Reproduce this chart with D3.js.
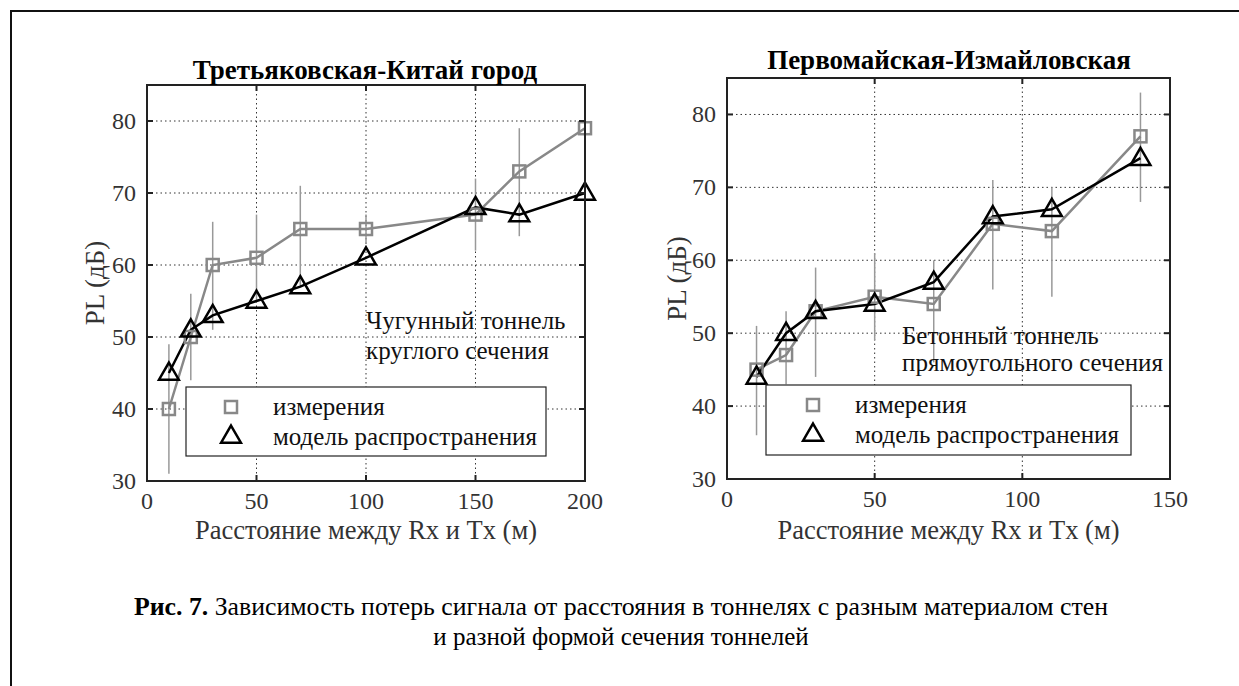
<!DOCTYPE html>
<html><head><meta charset="utf-8">
<script src="https://cdn.jsdelivr.net/npm/d3@7"></script>
<style>body{margin:0;background:#fff}svg{display:block}text{font-family:"Liberation Serif","Times New Roman","DejaVu Serif",serif}</style>
</head><body>
<svg id="c" width="1239" height="686"></svg>
<script>
// ---- data ----
const leftTitle = "Третьяковская-Китай город";
const rightTitle = "Первомайская-Измайловская";
const leftX = [10, 20, 30, 50, 70, 100, 150, 170, 200];
const leftMeas = [40, 50, 60, 61, 65, 65, 67, 73, 79];
const leftMeasLo = [31, 44, 51, 55, 57, 63, 62, 64, 74];
const leftMeasHi = [49, 56, 66, 67, 71, 67, 72, 79, 84];
const leftModel = [45, 51, 53, 55, 57, 61, 68, 67, 70];
const rightX = [10, 20, 30, 50, 70, 90, 110, 140];
const rightMeas = [45, 47, 53, 55, 54, 65, 64, 77];
const rightMeasLo = [36, 43, 44, 49, 46, 56, 55, 68];
const rightMeasHi = [51, 53, 59, 61, 60, 71, 70, 83];
const rightModel = [44, 50, 53, 54, 57, 66, 67, 74];
const leftXTicks = [0, 50, 100, 150, 200];
const rightXTicks = [0, 50, 100, 150];
const yTicks = [30, 40, 50, 60, 70, 80];
const legendLabels = ["измерения", "модель распространения"];
const xLabel = "Расстояние между Rx и Tx (м)";
const yLabel = "PL (дБ)";
const leftNote = ["Чугунный тоннель", "круглого сечения"];
const rightNote = ["Бетонный тоннель", "прямоугольного сечения"];

const svg = d3.select("#c");
// outer frame
svg.append("path").attr("d","M11,686 L11,11 L1239,11").attr("fill","none").attr("stroke","#111").attr("stroke-width",2);

const measColor = "#888", modelColor = "#000";

function panel(o){
  const g = svg.append("g");
  const x = d3.scaleLinear().domain(o.xDomain).range([o.x0, o.x1]);
  const y = d3.scaleLinear().domain([30,85]).range([o.y1, o.y0]);
  // grid
  g.selectAll(".gx").data(o.xTicks.slice(1,-1)).join("line")
    .attr("x1",d=>x(d)).attr("x2",d=>x(d)).attr("y1",o.y0).attr("y2",o.y1)
    .attr("stroke","#333").attr("stroke-width",1).attr("stroke-dasharray","1.5,3");
  g.selectAll(".gy").data(yTicks.slice(1)).join("line")
    .attr("y1",d=>y(d)).attr("y2",d=>y(d)).attr("x1",o.x0).attr("x2",o.x1)
    .attr("stroke","#333").attr("stroke-width",1).attr("stroke-dasharray","1.5,3");
  // error bars
  g.selectAll(".eb").data(o.xs.map((v,i)=>[v,o.lo[i],o.hi[i]])).join("line")
    .attr("x1",d=>x(d[0])).attr("x2",d=>x(d[0])).attr("y1",d=>y(d[1])).attr("y2",d=>y(d[2]))
    .attr("stroke","#999").attr("stroke-width",1.5);
  // lines
  const line = d3.line().x(d=>x(d[0])).y(d=>y(d[1]));
  const meas = o.xs.map((v,i)=>[v,o.meas[i]]);
  const model = o.xs.map((v,i)=>[v,o.model[i]]);
  g.append("path").attr("d",line(meas)).attr("fill","none").attr("stroke",measColor).attr("stroke-width",2.5);
  g.append("path").attr("d",line(model)).attr("fill","none").attr("stroke",modelColor).attr("stroke-width",2.5);
  g.selectAll(".sq").data(meas).join("rect")
    .attr("x",d=>x(d[0])-6).attr("y",d=>y(d[1])-6).attr("width",12).attr("height",12)
    .attr("fill","none").attr("stroke",measColor).attr("stroke-width",2.5);
  const tri = d3.symbol().type(d3.symbolTriangle).size(170);
  g.selectAll(".tr").data(model).join("path")
    .attr("d",tri).attr("transform",d=>`translate(${x(d[0])},${y(d[1])+1})`)
    .attr("fill","none").attr("stroke",modelColor).attr("stroke-width",2.5);
  // axes box
  g.append("rect").attr("x",o.x0).attr("y",o.y0).attr("width",o.x1-o.x0).attr("height",o.y1-o.y0)
    .attr("fill","none").attr("stroke","#222").attr("stroke-width",2);
  // ticks (inner, both sides)
  const tk = 6;
  g.selectAll(".tyl").data(yTicks).join("line").attr("x1",o.x0).attr("x2",o.x0+tk).attr("y1",d=>y(d)).attr("y2",d=>y(d)).attr("stroke","#222").attr("stroke-width",2);
  g.selectAll(".tyr").data(yTicks).join("line").attr("x1",o.x1).attr("x2",o.x1-tk).attr("y1",d=>y(d)).attr("y2",d=>y(d)).attr("stroke","#222").attr("stroke-width",2);
  g.selectAll(".txb").data(o.xTicks).join("line").attr("y1",o.y1).attr("y2",o.y1-tk).attr("x1",d=>x(d)).attr("x2",d=>x(d)).attr("stroke","#222").attr("stroke-width",2);
  g.selectAll(".txt").data(o.xTicks).join("line").attr("y1",o.y0).attr("y2",o.y0+tk).attr("x1",d=>x(d)).attr("x2",d=>x(d)).attr("stroke","#222").attr("stroke-width",2);
  // tick labels
  g.selectAll(".yl").data(yTicks).join("text").attr("x",o.x0-11).attr("y",d=>y(d)+8)
    .attr("text-anchor","end").attr("font-size",24).attr("fill","#333").text(d=>d);
  g.selectAll(".xl").data(o.xTicks).join("text").attr("x",d=>x(d)).attr("y",o.y1+28)
    .attr("text-anchor","middle").attr("font-size",24).attr("fill","#333").text(d=>d);
  // labels
  g.append("text").attr("x",(o.x0+o.x1)/2).attr("y",539).attr("text-anchor","middle")
    .attr("font-size",26.5).attr("fill","#333").text(xLabel);
  g.append("text").attr("transform",`translate(${o.ylx},${(o.y0+o.y1)/2}) rotate(-90)`)
    .attr("text-anchor","middle").attr("font-size",27).attr("fill","#333").text(yLabel);
  g.append("text").attr("x",o.tx).attr("y",o.ty).attr("text-anchor","middle")
    .attr("font-size",27).attr("font-weight","bold").attr("fill","#000").text(o.title);
  // note
  o.note.forEach((t,i)=>g.append("text").attr("x",o.nx).attr("y",o.ny+i*o.nd)
    .attr("font-size",25).attr("fill","#111").text(t));
  // legend
  const L = o.leg;
  g.append("rect").attr("x",L.x).attr("y",L.y).attr("width",L.w).attr("height",L.h)
    .attr("fill","#fff").attr("stroke","#222").attr("stroke-width",1.2);
  g.append("rect").attr("x",L.mx-6).attr("y",L.y+20-6).attr("width",12).attr("height",12)
    .attr("fill","none").attr("stroke",measColor).attr("stroke-width",2.5);
  g.append("path").attr("d",tri).attr("transform",`translate(${L.mx},${L.y+50})`)
    .attr("fill","none").attr("stroke",modelColor).attr("stroke-width",2.5);
  legendLabels.forEach((t,i)=>g.append("text").attr("x",L.tx).attr("y",L.y+28+i*30)
    .attr("font-size",25).attr("fill","#111").text(t));
}

panel({x0:147,x1:585,y0:85,y1:481,xDomain:[0,200],xTicks:leftXTicks,xs:leftX,meas:leftMeas,lo:leftMeasLo,hi:leftMeasHi,model:leftModel,
  title:leftTitle,tx:365,ty:79,ylx:104,note:leftNote,nx:366,ny:329,nd:30,
  leg:{x:186,y:387,w:360,h:69,mx:231,tx:273}});
panel({x0:727,x1:1170,y0:78,y1:479,xDomain:[0,150],xTicks:rightXTicks,xs:rightX,meas:rightMeas,lo:rightMeasLo,hi:rightMeasHi,model:rightModel,
  title:rightTitle,tx:949,ty:69,ylx:686,note:rightNote,nx:902,ny:344,nd:27,
  leg:{x:766,y:385,w:365,h:70,mx:813,tx:855}});

// caption
const cap = svg.append("text").attr("x",621).attr("y",615).attr("text-anchor","middle").attr("font-size",25.8).attr("fill","#000");
cap.append("tspan").attr("font-weight","bold").text("Рис. 7.");
cap.append("tspan").text(" Зависимость потерь сигнала от расстояния в тоннелях с разным материалом стен");
svg.append("text").attr("x",621).attr("y",645).attr("text-anchor","middle").attr("font-size",25).attr("fill","#000")
  .text("и разной формой сечения тоннелей");
</script>
</body></html>
